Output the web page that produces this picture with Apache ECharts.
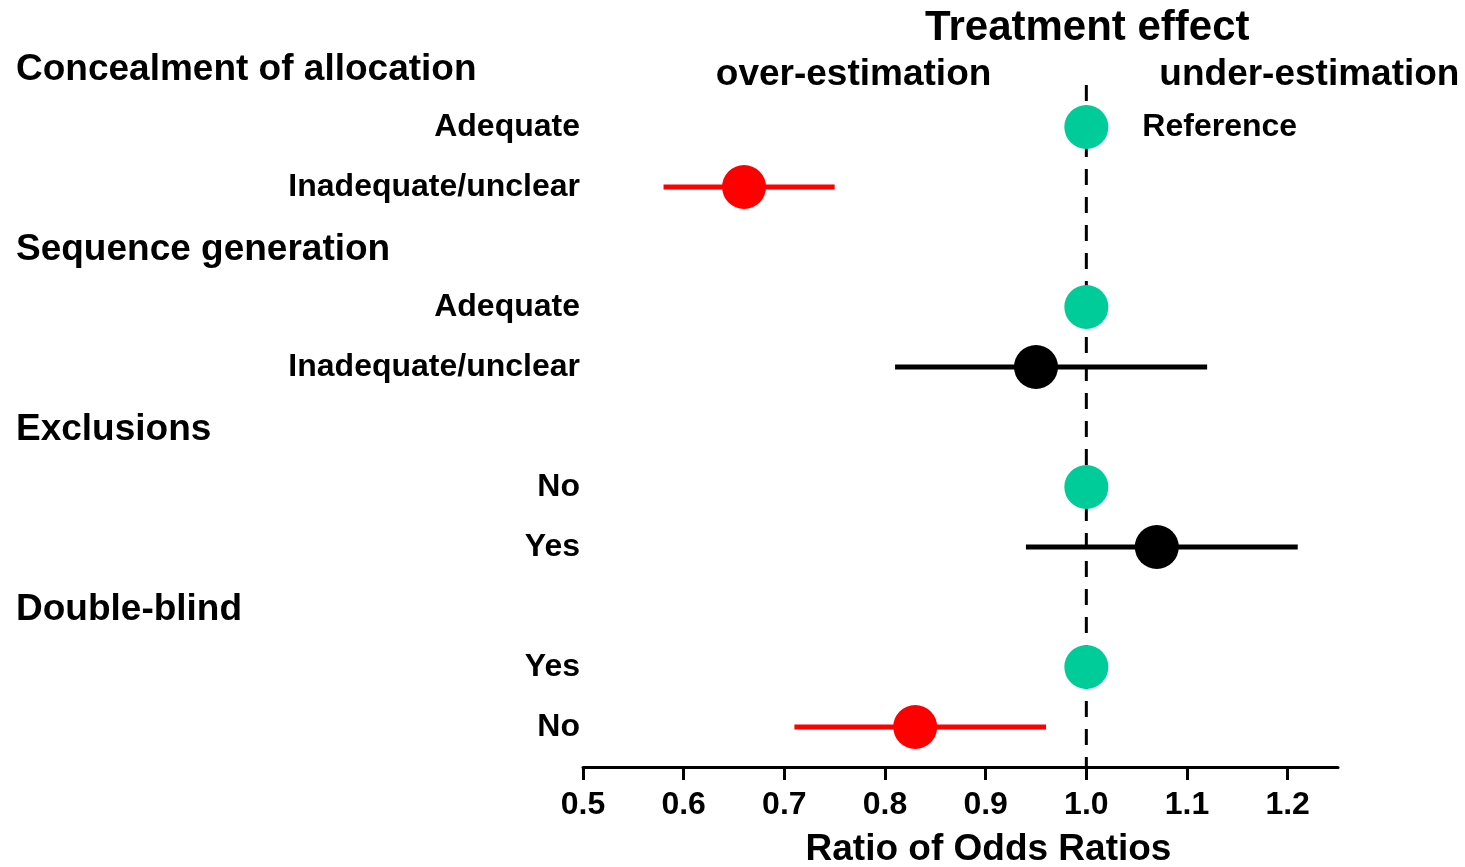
<!DOCTYPE html>
<html>
<head>
<meta charset="utf-8">
<script src="https://cdn.jsdelivr.net/npm/echarts@6/dist/echarts.min.js"></script>
<style>
  html, body { margin: 0; padding: 0; background: #ffffff; }
  #chart { width: 1465px; height: 867px; }
</style>
</head>
<body>
<div id="chart"></div>
<script>
// ---- data ----
const groupHeaders = ['Concealment of allocation', 'Sequence generation', 'Exclusions', 'Double-blind'];
const groupSlots = [0, 3, 6, 9];
const rowLabels = ['Adequate', 'Inadequate/unclear', 'Adequate', 'Inadequate/unclear', 'No', 'Yes', 'Yes', 'No'];
const rowSlots = [1, 2, 4, 5, 7, 8, 10, 11];
const estimates = [1.0, 0.66, 1.0, 0.95, 1.0, 1.07, 1.0, 0.83];
const lowerCI = [null, 0.58, null, 0.81, null, 0.94, null, 0.71];
const upperCI = [null, 0.75, null, 1.12, null, 1.21, null, 0.96];
const rowKind = ['ref', 'sig', 'ref', 'ns', 'ref', 'ns', 'ref', 'sig'];
const xTicks = [0.5, 0.6, 0.7, 0.8, 0.9, 1.0, 1.1, 1.2];
const xMin = 0.5, xMax = 1.25;
const nullValue = 1.0;
const title = 'Treatment effect';
const leftNote = 'over-estimation';
const rightNote = 'under-estimation';
const refNote = 'Reference';
const xName = 'Ratio of Odds Ratios';

// ---- styles ----
const kindColor = { ref: '#00CC99', sig: '#FF0000', ns: '#000000' };
const FONT = "'Liberation Sans', Arial, Helvetica, sans-serif";

const yMin = 0, yMax = 35 / 3;   // slot scale (60px per slot)
const lineTop = 0.3;             // dashed reference line starts a bit below header row

const pointData = estimates.map((v, i) => ({
  value: [v, rowSlots[i]],
  itemStyle: { color: kindColor[rowKind[i]], opacity: 1 },
  label: i === 0 ? {
    show: true, position: 'right', distance: 34, formatter: refNote,
    color: '#000', fontFamily: FONT, fontWeight: 'bold', fontSize: 32
  } : { show: false }
}));

const ciData = [];
estimates.forEach((v, i) => {
  if (lowerCI[i] != null) ciData.push({ value: [lowerCI[i], upperCI[i], rowSlots[i]], kind: rowKind[i] });
});

const labelData = rowLabels.map((t, i) => ({ value: [xMin, rowSlots[i]], name: t }));

const chart = echarts.init(document.getElementById('chart'), null, { renderer: 'canvas' });

const option = {
  animation: false,
  backgroundColor: '#ffffff',
  grid: { left: 583, right: 127, top: 67, bottom: 100, containLabel: false, outerBoundsMode: 'none' },
  xAxis: {
    type: 'value', min: xMin, max: xMax, position: 'bottom',
    axisLine: { show: true, onZero: false, lineStyle: { color: '#000', width: 3 } },
    axisTick: { show: true, length: 13, lineStyle: { color: '#000', width: 3 }, customValues: xTicks },
    axisLabel: {
      show: true, margin: 22, customValues: xTicks,
      formatter: v => Number(v).toFixed(1),
      color: '#000', fontFamily: FONT, fontWeight: 'bold', fontSize: 32
    },
    splitLine: { show: false },
    name: xName, nameLocation: 'middle', nameGap: 64,
    nameTextStyle: { color: '#000', fontFamily: FONT, fontWeight: 'bold', fontSize: 37, padding: [0, 0, 0, 56] }
  },
  yAxis: {
    type: 'value', inverse: true, min: yMin, max: yMax,
    show: false
  },
  series: [
    {
      type: 'line', name: 'null line', silent: true, z: 1,
      data: [[nullValue, lineTop], [nullValue, yMax]],
      symbol: 'none',
      lineStyle: { color: '#000', width: 3, type: [16, 12] }
    },
    {
      type: 'custom', name: 'CI', z: 2, clip: false,
      data: ciData.map(d => d.value),
      encode: { x: [0, 1], y: 2 },
      renderItem: function (params, api) {
        const y = api.value(2);
        const p1 = api.coord([api.value(0), y]);
        const p2 = api.coord([api.value(1), y]);
        return {
          type: 'line',
          shape: { x1: p1[0], y1: p1[1], x2: p2[0], y2: p2[1] },
          style: { stroke: kindColor[ciData[params.dataIndex].kind], lineWidth: 5 }
        };
      }
    },
    {
      type: 'scatter', name: 'estimate', z: 3,
      symbol: 'circle', symbolSize: 44,
      itemStyle: { opacity: 1 },
      data: pointData
    },
    {
      type: 'scatter', name: 'row labels', z: 3, silent: true,
      symbolSize: 0, clip: false,
      itemStyle: { opacity: 1 },
      data: labelData,
      label: {
        show: true, position: 'left', distance: 3,
        formatter: p => p.name,
        color: '#000', fontFamily: FONT, fontWeight: 'bold', fontSize: 32
      }
    }
  ]
};

chart.setOption(option);

// texts placed through the axes' own scales
const xRef = chart.convertToPixel({ gridIndex: 0 }, [nullValue, 0])[0];
const yOf = s => chart.convertToPixel({ gridIndex: 0 }, [xMin, s])[1];
const graphics = [];
groupHeaders.forEach((h, i) => {
  graphics.push({
    type: 'text', x: 16, y: yOf(groupSlots[i]) + 3,
    style: { text: h, fill: '#000', font: "bold 37px " + FONT, textAlign: 'left', textVerticalAlign: 'middle' }
  });
});
graphics.push({
  type: 'text', x: xRef + 1, y: 28,
  style: { text: title, fill: '#000', font: "bold 42px " + FONT, textAlign: 'center', textVerticalAlign: 'middle' }
});
graphics.push({
  type: 'text', x: xRef - 95, y: 75,
  style: { text: leftNote, fill: '#000', font: "bold 37px " + FONT, textAlign: 'right', textVerticalAlign: 'middle' }
});
graphics.push({
  type: 'text', x: xRef + 73, y: 75,
  style: { text: rightNote, fill: '#000', font: "bold 37px " + FONT, textAlign: 'left', textVerticalAlign: 'middle' }
});
chart.setOption({ graphic: graphics });
</script>
</body>
</html>
